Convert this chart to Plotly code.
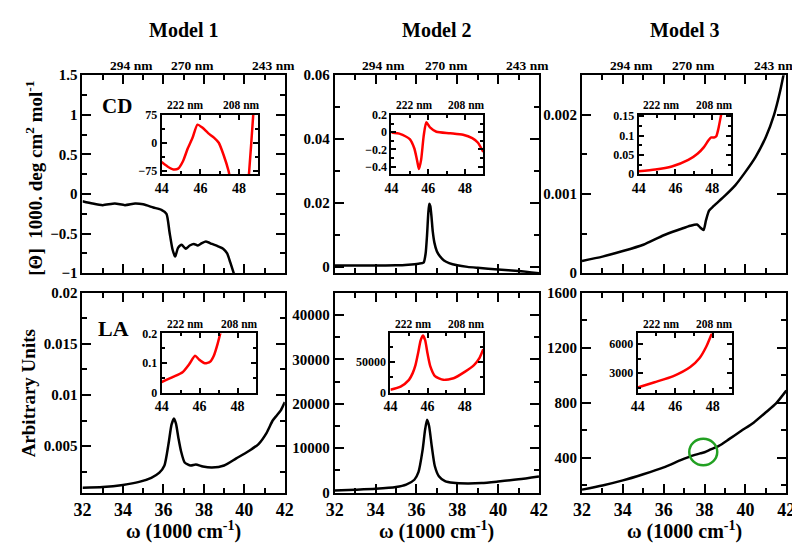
import plotly.graph_objects as go

# ---- data (x in 1000 cm-1) ----
# Model 1, CD
cd1_x = [32.0, 32.5, 33.0, 33.6, 34.1, 34.6, 35.0, 35.5, 35.9, 36.15, 36.3, 36.45, 36.58, 36.72, 36.9,
         37.1, 37.3, 37.5, 37.7, 37.9, 38.1, 38.4, 38.7, 38.95, 39.15, 39.3, 39.45, 39.6]
cd1_y = [-0.09, -0.12, -0.14, -0.12, -0.14, -0.12, -0.13, -0.17, -0.2, -0.25, -0.48, -0.7, -0.79, -0.68, -0.64,
         -0.69, -0.65, -0.63, -0.65, -0.62, -0.6, -0.63, -0.66, -0.69, -0.75, -0.86, -0.98, -1.1]
cd1_in_x = [44.0, 44.3, 44.6, 44.85, 45.1, 45.35, 45.6, 45.85, 46.1, 46.4, 46.7, 46.95, 47.2, 47.45,
            47.7, 48.0, 48.3, 48.5, 48.73, 48.9]
cd1_in_y = [-52, -64, -72, -70, -50, -15, 14, 49, 41, 26, 14, 0, -33, -75,
            -140, -200, -200, -92, 75, 200]

# Model 2, CD
cd2_x = [32, 33, 34, 35, 35.6, 36.1, 36.35, 36.45, 36.52, 36.58, 36.63, 36.68, 36.74, 36.8, 36.88,
         37.0, 37.15, 37.35, 37.6, 38.0, 38.5, 39.0, 40.0, 41.0, 42.0]
cd2_y = [0.0003, 0.0003, 0.0003, 0.0004, 0.0006, 0.0009, 0.0012, 0.004, 0.0098, 0.0165, 0.0197, 0.019,
         0.0155, 0.011, 0.0075, 0.0048, 0.0032, 0.0019, 0.0011, 0.0004, -0.0001, -0.0004, -0.0009,
         -0.0014, -0.0021]
cd2_in_x = [44.0, 44.5, 45.0, 45.25, 45.4, 45.5, 45.62, 45.76, 45.9, 46.1, 46.45, 47.2, 47.9, 48.4, 48.7, 49.0]
cd2_in_y = [-0.005, -0.022, -0.08, -0.19, -0.33, -0.43, -0.32, -0.04, 0.115, 0.055, 0.005, -0.012,
            -0.03, -0.07, -0.12, -0.23]

# Model 3, CD
cd3_x = [32, 33, 34, 35, 36, 36.8, 37.3, 37.63, 37.8, 37.95, 38.07, 38.22, 38.45, 39.0, 39.5, 40.0,
         40.5, 41.0, 41.4, 41.7, 41.9]
cd3_y = [0.000155, 0.00021, 0.00028, 0.00036, 0.00048, 0.000555, 0.0006, 0.000615, 0.000575, 0.000545,
         0.00067, 0.00079, 0.00085, 0.00098, 0.00111, 0.00128, 0.00147, 0.00172, 0.002, 0.0023, 0.00255]
cd3_in_x = [44, 44.9, 45.8, 46.7, 47.2, 47.55, 47.8, 47.95, 48.1, 48.22, 48.33, 48.45, 48.55]
cd3_in_y = [0.0075, 0.012, 0.02, 0.037, 0.053, 0.07, 0.088, 0.095, 0.095, 0.098, 0.116, 0.145, 0.17]

# Model 1, LA
la1_x = [32, 33, 34, 34.8, 35.4, 35.8, 36.05, 36.25, 36.4, 36.52, 36.62, 36.74, 36.87, 37.05, 37.35,
         37.6, 37.95, 38.4, 39.0, 39.6, 40.2, 40.7, 41.1, 41.4, 41.6, 41.8, 42.0]
la1_y = [0.00093, 0.00099, 0.0012, 0.0015, 0.0019, 0.0024, 0.0031, 0.0052, 0.0071, 0.0077, 0.0072,
         0.0058, 0.0045, 0.0034, 0.0031, 0.0032, 0.003, 0.0029, 0.0031, 0.0038, 0.0045, 0.0052,
         0.0063, 0.0075, 0.008, 0.0085, 0.0093]
la1_in_x = [44, 44.6, 45.1, 45.45, 45.76, 45.97, 46.28, 46.55, 46.75, 46.95, 47.15]
la1_in_y = [0.036, 0.053, 0.069, 0.096, 0.125, 0.112, 0.099, 0.104, 0.125, 0.165, 0.215]

# Model 2, LA
la2_x = [32, 33, 34, 35, 35.5, 35.9, 36.1, 36.3, 36.42, 36.52, 36.62, 36.75, 36.9, 37.1, 37.4, 37.8,
         38.5, 39.2, 40, 41, 42]
la2_y = [500, 650, 850, 1250, 1800, 2900, 4600, 9500, 14000, 16400, 15000, 10500, 6000, 3700, 2600,
         2200, 2050, 2150, 2500, 3000, 3650]
la2_in_x = [44, 44.55, 45.0, 45.2, 45.35, 45.5, 45.62, 45.75, 45.87, 46.0, 46.15, 46.4, 46.85, 47.4,
            48.0, 48.5, 48.8, 49.0]
la2_in_y = [4800, 10000, 21000, 32000, 45000, 66000, 85000, 93500, 86000, 64000, 43000, 27000, 21000,
            23500, 34000, 45000, 57000, 71000]

# Model 3, LA
la3_x = [32, 33, 34, 35, 36, 36.8, 37.4, 37.8, 38.0, 38.3, 38.7, 39.2, 39.8, 40.4, 41, 41.5, 42]
la3_y = [168, 198, 235, 280, 330, 380, 415, 432, 440, 460, 486, 535, 596, 655, 730, 795, 888]
la3_in_x = [44, 44.9, 45.9, 46.8, 47.3, 47.65, 47.85, 48.0]
la3_in_y = [1530, 2070, 2700, 3630, 4550, 5700, 6600, 7300]

titles = ["Model 1", "Model 2", "Model 3"]
nm_main = ["294 nm", "270 nm", "243 nm"]
nm_main_pos = [34.4, 37.45, 41.45]
nm_inset = ["222 nm", "208 nm"]
nm_inset_pos = [45.25, 48.1]

W, H = 800, 547
FONT = "Liberation Serif"

fig = go.Figure()

# (x domain px, y domain px, y range, dtick, minor dtick, is_inset, bottom row, tickformat)
panels = [
    ((67, 274), (61, 265), [-1, 1.5], 0.5, 0.25, False, False, None),
    ((325, 534), (61, 265), [-0.0021, 0.06], 0.02, 0.01, False, False, None),
    ((578, 787), (61, 265), [0, 0.0025], 0.001, 0.0005, False, False, None),
    ((67, 274), (285, 491), [0.00045, 0.02], 0.005, 0.0025, False, True, None),
    ((325, 534), (285, 491), [0, 45000], 10000, 5000, False, True, "d"),
    ((578, 787), (285, 491), [146, 1600], 400, 200, False, True, "d"),
    ((148, 247), (102, 163), [-85, 75], 75, 37.5, True, False, None),
    ((383, 477), (102, 163), [-0.49, 0.2], 0.2, 0.1, True, False, None),
    ((636, 730), (102, 163), [0, 0.153], 0.05, 0.025, True, False, None),
    ((148, 245), (327, 388), [0, 0.2], 0.1, 0.05, True, False, None),
    ((382, 477), (327, 388), [0, 97000], 50000, 25000, True, False, "d"),
    ((635, 731), (327, 388), [1000, 7070], 3000, 1500, True, False, "d"),
]

curves = [
    (cd1_x, cd1_y), (cd2_x, cd2_y), (cd3_x, cd3_y),
    (la1_x, la1_y), (la2_x, la2_y), (la3_x, la3_y),
    (cd1_in_x, cd1_in_y), (cd2_in_x, cd2_in_y), (cd3_in_x, cd3_in_y),
    (la1_in_x, la1_in_y), (la2_in_x, la2_in_y), (la3_in_x, la3_in_y),
]

layout = {}
for i, (px, py, yr, dt, mdt, inset, bottom, fmt) in enumerate(panels):
    n = i + 1
    sx = "" if n == 1 else str(n)
    xd = [px[0] / W, px[1] / W]
    yd = [1 - py[1] / H, 1 - py[0] / H]
    tl = 5 if inset else 9
    ml = 3 if inset else 5
    common = dict(showline=True, linewidth=2, linecolor="black", mirror="ticks",
                  ticks="inside", ticklen=tl, tickwidth=2, tickcolor="black",
                  showgrid=False, zeroline=False, fixedrange=True)
    layout["xaxis" + sx] = dict(
        common, domain=xd, anchor="y" + sx,
        range=[44, 49] if inset else [32, 42],
        tick0=44 if inset else 32, dtick=2,
        showticklabels=inset or bottom,
        tickfont=dict(family=FONT, size=14 if inset else 18, color="black", weight="bold"),
        minor=dict(ticks="inside", ticklen=ml, tickwidth=2, tickcolor="black", dtick=1, showgrid=False),
    )
    layout["yaxis" + sx] = dict(
        common, domain=yd, anchor="x" + sx, range=yr, tick0=0, dtick=dt,
        tickformat=fmt,
        tickfont=dict(family=FONT, size=12 if inset else 15, color="black", weight="bold"),
        minor=dict(ticks="inside", ticklen=ml, tickwidth=2, tickcolor="black", dtick=mdt, tick0=0,
                   showgrid=False),
    )
    cx, cy = curves[i]
    fig.add_trace(go.Scatter(x=cx, y=cy, mode="lines", xaxis="x" + sx, yaxis="y" + sx,
                             line=dict(color="red" if inset else "black", width=2.5,
                                       shape="spline", smoothing=0.6),
                             showlegend=False, hoverinfo="skip"))

ann = []


def txt(x, y, s, size, angle=0):
    ann.append(dict(x=x, y=y, xref="paper", yref="paper", text=s, showarrow=False, textangle=angle,
                    xanchor="center", yanchor="middle",
                    font=dict(family=FONT, size=size, color="black", weight="bold")))


# column titles and x titles
for k, cxp in enumerate([170.5, 429.5, 682.5]):
    txt(cxp / W, 1 - 14 / H, titles[k], 20)
    txt(cxp / W, 1 - 530 / H, "\u03c9 (1000 cm<sup>-1</sup>)", 20)

# wavelength labels above the top panels
for k in range(3):
    sx = "" if k == 0 else str(k + 1)
    for s, xv in zip(nm_main, nm_main_pos):
        ann.append(dict(x=xv, y=1 - 51 / H, xref="x" + sx, yref="paper", text=s, showarrow=False,
                        xanchor="center", yanchor="middle",
                        font=dict(family=FONT, size=13.5, color="black", weight="bold")))

# wavelength labels above insets
for k in range(6):
    sx = str(k + 7)
    yy = 91.5 if k < 3 else 317
    for s, xv in zip(nm_inset, nm_inset_pos):
        ann.append(dict(x=xv, y=1 - yy / H, xref="x" + sx, yref="paper", text=s, showarrow=False,
                        xanchor="center", yanchor="middle",
                        font=dict(family=FONT, size=11.5, color="black", weight="bold")))

txt(102 / W, 1 - 92.5 / H, "CD", 21)
txt(99 / W, 1 - 322 / H, "LA", 22)
txt(18 / W, 1 - 167 / H, "[\u0398]  1000. deg cm<sup>2</sup> mol<sup>-1</sup>", 19, angle=-90)
txt(12 / W, 1 - 389 / H, "Arbitrary Units", 19, angle=-90)

fig.update_layout(
    width=W, height=H, margin=dict(l=0, r=0, t=0, b=0),
    paper_bgcolor="white", plot_bgcolor="white",
    annotations=ann,
    shapes=[dict(type="circle", xref="x6", yref="y6", x0=37.25, x1=38.62, y0=346, y1=537,
                 line=dict(color="#22a022", width=2.5))],
    **layout,
)

fig.write_html("out.html")
